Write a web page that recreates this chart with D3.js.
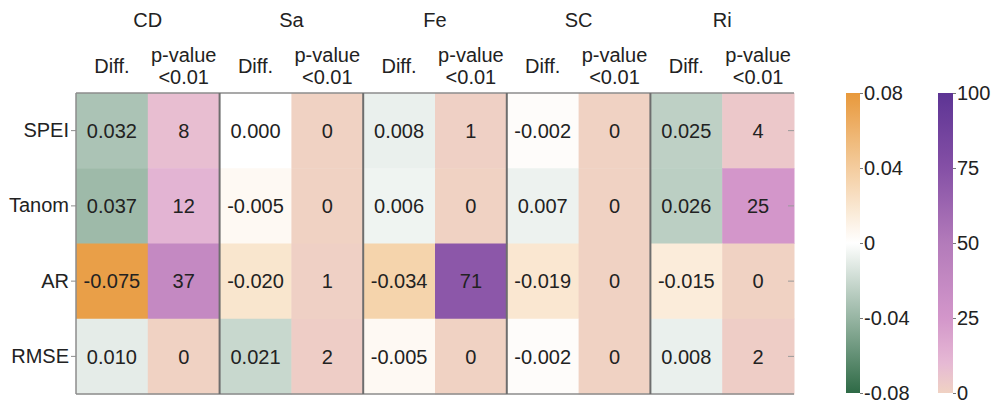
<!DOCTYPE html>
<html>
<head>
<meta charset="utf-8">
<script src="https://cdn.jsdelivr.net/npm/d3@7"></script>
<style>
  body { margin: 0; background: #fff; }
  text { font-family: "Liberation Sans", Arial, sans-serif; fill: #222; }
</style>
</head>
<body>
<div id="chart"></div>
<script>
// 数据
var groups = ["CD", "Sa", "Fe", "SC", "Ri"];
var rows = ["SPEI", "Tanom", "AR", "RMSE"];
// Diff. 每行依次为 CD, Sa, Fe, SC, Ri
var diffValues = [
    [0.032, 0.000, 0.008, -0.002, 0.025],
    [0.037, -0.005, 0.006, 0.007, 0.026],
    [-0.075, -0.020, -0.034, -0.019, -0.015],
    [0.010, 0.021, -0.005, -0.002, 0.008]
];
// p-value<0.01 的百分比
var pValues = [
    [8, 0, 1, 0, 4],
    [12, 0, 0, 0, 25],
    [37, 1, 71, 0, 0],
    [0, 2, 0, 0, 2]
];
var diffTicks = [0.08, 0.04, 0, -0.04, -0.08];
var pTicks = [100, 75, 50, 25, 0];

var svg_width = 997, svg_height = 408;
var svg = d3.select("#chart").append("svg")
    .attr("width", svg_width)
    .attr("height", svg_height);

var grid_left = 76, grid_right = 794, grid_top = 93, grid_bottom = 394;

var cols = [];
groups.forEach(function (g) { cols.push(g + "|diff"); cols.push(g + "|p"); });

var x = d3.scaleBand().domain(cols).range([grid_left, grid_right]);
var xGroup = d3.scaleBand().domain(groups).range([grid_left, grid_right]);
var y = d3.scaleBand().domain(rows).range([grid_top, grid_bottom]);

// 正值为绿色，负值为橙色
var diffColor = d3.scaleLinear().domain([-0.08, 0, 0.08])
    .range(["#e8993c", "#ffffff", "#2e6a46"]);
var pColor = d3.scaleLinear().domain([0, 10, 25, 50, 75, 100])
    .range(["#f0d2c3", "#e6b9d4", "#d396ca", "#b37bba", "#8550a6", "#5d3494"]);

var cells = [];
rows.forEach(function (r, i) {
    groups.forEach(function (g, j) {
        cells.push({row: r, col: g + "|diff", value: diffValues[i][j], fill: diffColor(diffValues[i][j]), label: diffValues[i][j].toFixed(3)});
        cells.push({row: r, col: g + "|p", value: pValues[i][j], fill: pColor(pValues[i][j]), label: String(pValues[i][j])});
    });
});

svg.append("g").selectAll("rect").data(cells).enter().append("rect")
    .attr("x", function (d) { return x(d.col); })
    .attr("y", function (d) { return y(d.row); })
    .attr("width", x.bandwidth() + 0.5)
    .attr("height", y.bandwidth() + 0.5)
    .attr("fill", function (d) { return d.fill; });

svg.append("g").selectAll("text").data(cells).enter().append("text")
    .attr("x", function (d) { return x(d.col) + x.bandwidth() / 2; })
    .attr("y", function (d) { return y(d.row) + y.bandwidth() / 2; })
    .attr("dy", "0.36em")
    .attr("text-anchor", "middle")
    .attr("font-size", "20px")
    .text(function (d) { return d.label; });

// 边框与分组线
var line_color = "#8c8c8c";
svg.append("line").attr("x1", grid_left).attr("x2", grid_right).attr("y1", grid_top).attr("y2", grid_top)
    .style("stroke", line_color).style("stroke-width", 1.5);
svg.append("line").attr("x1", grid_left).attr("x2", grid_right).attr("y1", grid_bottom).attr("y2", grid_bottom)
    .style("stroke", line_color).style("stroke-width", 1.5);
svg.append("line").attr("x1", grid_left).attr("x2", grid_left).attr("y1", grid_top).attr("y2", grid_bottom)
    .style("stroke", line_color).style("stroke-width", 1.5);
svg.append("g").selectAll("line").data(groups.slice(1)).enter().append("line")
    .attr("x1", function (g) { return xGroup(g); })
    .attr("x2", function (g) { return xGroup(g); })
    .attr("y1", grid_top).attr("y2", grid_bottom)
    .style("stroke", "#6e6e6e").style("stroke-width", 2);

// 行标签
var leftAxis = svg.append("g").attr("transform", "translate(" + grid_left + ",0)")
    .call(d3.axisLeft(y).tickSize(5).tickPadding(2));
leftAxis.select(".domain").remove();
leftAxis.selectAll("line").style("stroke", line_color);
leftAxis.selectAll("text").attr("font-size", "20px").style("font-family", null).style("fill", "#222");

var rightAxis = svg.append("g").attr("transform", "translate(" + grid_right + ",0)")
    .call(d3.axisRight(y).tickSize(-6).tickFormat(""));
rightAxis.select(".domain").remove();
rightAxis.selectAll("line").style("stroke", "#9a9a9a");

// 表头
svg.append("g").selectAll("text").data(groups).enter().append("text")
    .attr("x", function (g) { return xGroup(g) + xGroup.bandwidth() / 2; })
    .attr("y", 27)
    .attr("text-anchor", "middle")
    .attr("font-size", "20px")
    .text(function (g) { return g; });

var sub = svg.append("g");
groups.forEach(function (g) {
    sub.append("text")
        .attr("x", x(g + "|diff") + x.bandwidth() / 2)
        .attr("y", 73)
        .attr("text-anchor", "middle")
        .attr("font-size", "20px")
        .text("Diff.");
    sub.append("text")
        .attr("text-anchor", "middle")
        .attr("font-size", "20px")
        .attr("x", function () {
            var cx = x(g + "|p") + x.bandwidth() / 2;
            d3.select(this).append("tspan").attr("x", cx).attr("y", 62).text("p-value");
            d3.select(this).append("tspan").attr("x", cx).attr("y", 84).text("<0.01");
            return cx;
        });
});

// 色标
var defs = svg.append("defs");
function colorbar(id, bar_x, bar_w, scale, colorFn, ticks, fmt) {
    var grad = defs.append("linearGradient").attr("id", id)
        .attr("x1", 0).attr("y1", 0).attr("x2", 0).attr("y2", 1);
    var dom = scale.domain();
    d3.range(0, 1.0001, 0.05).forEach(function (t) {
        var v = dom[0] + (dom[1] - dom[0]) * t;
        grad.append("stop").attr("offset", t).attr("stop-color", colorFn(v));
    });
    svg.append("rect").attr("x", bar_x).attr("y", scale.range()[0])
        .attr("width", bar_w).attr("height", scale.range()[1] - scale.range()[0])
        .attr("fill", "url(#" + id + ")");
    var ax = svg.append("g").attr("transform", "translate(" + (bar_x + bar_w) + ",0)")
        .call(d3.axisRight(scale).tickValues(ticks).tickSize(3).tickPadding(1).tickFormat(fmt));
    ax.select(".domain").remove();
    ax.selectAll("line").style("stroke", "#777");
    ax.selectAll("text").attr("font-size", "20px").style("font-family", null).style("fill", "#222");
}

var diffBar = d3.scaleLinear().domain([0.08, -0.08]).range([grid_top, grid_bottom - 1]);
colorbar("diffGrad", 846, 14, diffBar, function (v) { return diffColor(-v); }, diffTicks,
    function (d) { return d === 0 ? "0" : d.toFixed(2); });

var pBar = d3.scaleLinear().domain([100, 0]).range([grid_top, grid_bottom - 1]);
colorbar("pGrad", 938, 15, pBar, pColor, pTicks, function (d) { return String(d); });
</script>
</body>
</html>
